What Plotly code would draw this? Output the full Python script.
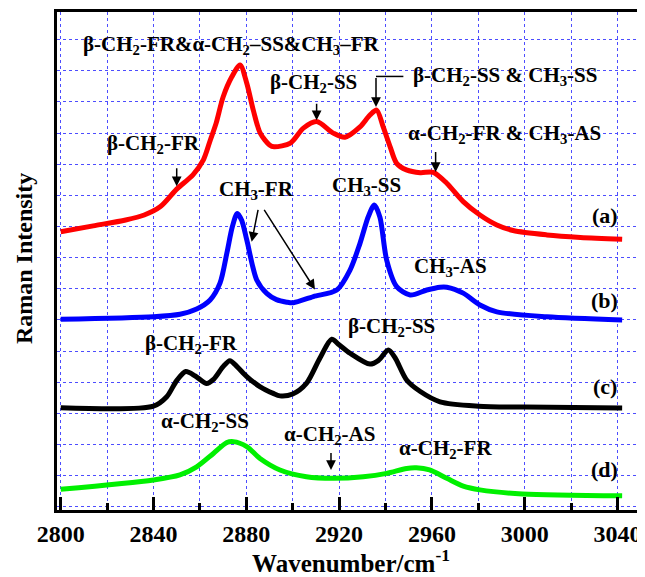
import plotly.graph_objects as go

# ---------------- data ----------------
wn_a = [2800, 2814, 2828, 2836, 2843, 2850, 2857, 2861.5, 2864.5, 2867, 2870, 2873.7, 2877.3,
        2880.2, 2883, 2886, 2890, 2892, 2899, 2904.6, 2910.3, 2917.5, 2922.5, 2929, 2933.3,
        2936.2, 2939, 2942, 2944.8, 2949, 2955, 2960.6, 2966.4, 2973.5, 2980.7, 2988, 2995,
        3009.5, 3024, 3042]
int_a = [8.83, 9.02, 9.21, 9.37, 9.64, 10.2, 10.66, 11.14, 11.78, 12.32, 13.16, 13.8, 14.19,
         13.6, 12.74, 12.0, 11.62, 11.56, 11.68, 12.16, 12.37, 12.0, 11.87, 12.2, 12.58,
         12.74, 12.2, 11.56, 11.03, 10.82, 10.73, 10.74, 10.39, 9.80, 9.37, 9.05, 8.87,
         8.73, 8.65, 8.59]

wn_b = [2800, 2840, 2851.4, 2858.6, 2864.4, 2868.7, 2871.6, 2874, 2876.1, 2878, 2880.2, 2884.5,
        2888.8, 2893, 2897.4, 2900.3, 2908.9, 2919, 2924.7, 2929, 2932.6, 2935.2, 2937.6,
        2940.5, 2944.8, 2950.6, 2957.8, 2963.5, 2966.4, 2973.5, 2980.7, 2988, 3009.5, 3042]
int_b = [6.02, 6.10, 6.18, 6.35, 6.64, 7.19, 8.14, 9.0, 9.42, 9.2, 8.57, 7.28,
         6.85, 6.65, 6.57, 6.55, 6.75, 6.96, 7.6, 8.46, 9.32, 9.69, 9.3,
         7.92, 7.07, 6.8, 6.96, 7.05, 7.05, 6.86, 6.48, 6.26, 6.10, 6.0]

wn_c = [2800, 2840, 2845.7, 2850, 2853.9, 2858, 2862.9, 2866, 2870, 2872.9, 2876, 2880.2, 2886,
        2891.6, 2894.5, 2900, 2905.9, 2911.7, 2916.8, 2920, 2924.7, 2933.3, 2937, 2941.2,
        2944, 2949.1, 2955, 2963.5, 2980, 3000, 3042]
int_c = [3.18, 3.23, 3.53, 4.05, 4.34, 4.2, 3.96, 4.1, 4.5, 4.69, 4.5, 4.18, 3.85,
         3.64, 3.56, 3.62, 3.96, 4.77, 5.38, 5.2, 4.93, 4.58, 4.7, 5.03,
         4.8, 4.07, 3.7, 3.37, 3.23, 3.2, 3.17]

wn_d = [2800, 2840, 2851.4, 2858.6, 2865.8, 2871.6, 2874.4, 2880.2, 2885.9, 2894.5, 2905.9,
        2917.5, 2930.4, 2940.5, 2949.1, 2953.3, 2959, 2966.4, 2973.5, 2980.7, 2999, 3042]
int_d = [0.56, 0.86, 1.02, 1.28, 1.71, 2.06, 2.09, 1.93, 1.55, 1.18, 0.96,
         0.91, 0.96, 1.07, 1.23, 1.25, 1.18, 0.91, 0.66, 0.54, 0.41, 0.35]

series_names = ["(a)", "(b)", "(c)", "(d)"]
series_colors = ["#ff0000", "#0000ff", "#000000", "rgb(0,240,0)"]

# band labels: text, x, y
labels = [
    ("β-CH<sub>2</sub>-FR&α-CH<sub>2</sub>–SS&CH<sub>3</sub>–FR", 2873.3, 14.82),
    ("β-CH<sub>2</sub>-SS", 2908.8, 13.6),
    ("β-CH<sub>2</sub>-SS & CH<sub>3</sub>-SS", 2991.4, 13.85),
    ("α-CH<sub>2</sub>-FR & CH<sub>3</sub>-AS", 2991.2, 11.98),
    ("β-CH<sub>2</sub>-FR", 2839.9, 11.66),
    ("CH<sub>3</sub>-FR", 2884.5, 10.16),
    ("CH<sub>3</sub>-SS", 2931.9, 10.29),
    ("CH<sub>3</sub>-AS", 2968.0, 7.69),
    ("β-CH<sub>2</sub>-FR", 2856.4, 5.24),
    ("β-CH<sub>2</sub>-SS", 2942.4, 5.77),
    ("α-CH<sub>2</sub>-SS", 2862.2, 2.72),
    ("α-CH<sub>2</sub>-AS", 2916.0, 2.30),
    ("α-CH<sub>2</sub>-FR", 2965.7, 1.85),
]
curve_tags = [("(a)", 3034.6, 9.36), ("(b)", 3034.6, 6.63), ("(c)", 3034.6, 3.85), ("(d)", 3034.6, 1.18)]

# arrows: tail x, tail y, head x, head y
arrows = [
    (2850.0, 10.92, 2850.0, 10.29),
    (2910.3, 12.99, 2910.3, 12.41),
    (2935.9, 13.82, 2935.9, 12.84),
    (2961.6, 11.44, 2961.6, 10.75),
    (2885.2, 9.58, 2882.3, 8.51),
    (2887.3, 9.58, 2909.6, 6.98),
    (2916.5, 1.77, 2916.5, 1.18),
]

FONT = "Liberation Serif"

fig = go.Figure()
for wn, inten, name, col in zip([wn_a, wn_b, wn_c, wn_d], [int_a, int_b, int_c, int_d],
                                series_names, series_colors):
    fig.add_trace(go.Scatter(x=wn, y=inten, mode="lines", name=name,
                             line=dict(color=col, width=5, shape="spline", smoothing=0.8),
                             showlegend=False))

annos = []
for t, x, y in labels:
    annos.append(dict(text=t, x=x, y=y, xref="x", yref="y", showarrow=False,
                      font=dict(family=FONT, size=21, color="black", weight="bold")))
for t, x, y in curve_tags:
    annos.append(dict(text=t, x=x, y=y, xref="x", yref="y", showarrow=False,
                      font=dict(family=FONT, size=22, color="black", weight="bold")))
for tx, ty, hx, hy in arrows:
    annos.append(dict(text="", x=hx, y=hy, ax=tx, ay=ty, xref="x", yref="y",
                      axref="x", ayref="y", showarrow=True, arrowhead=2, arrowsize=1.3,
                      arrowwidth=1.5, arrowcolor="black", standoff=0))
annos.append(dict(text="Raman Intensity", x=-0.056, y=0.504, xref="paper", yref="paper",
                  xanchor="center", yanchor="middle",
                  textangle=-90, showarrow=False,
                  font=dict(family=FONT, size=24, color="black", weight="bold")))

fig.add_shape(type="line", x0=2935.9, x1=2947.7, y0=13.82, y1=13.82, xref="x", yref="y",
              line=dict(color="black", width=1.5))

grid_col = "#4d4dff"
fig.update_layout(
    width=637, height=569,
    margin=dict(l=49, r=0, t=4, b=67, autoexpand=False),
    paper_bgcolor="white", plot_bgcolor="white",
    font=dict(family=FONT, color="black"),
    annotations=annos,
    xaxis=dict(range=[2798.4, 3051.85], tick0=2800, dtick=40,
               ticks="inside", ticklen=13, tickwidth=3, tickcolor="black",
               showline=True, linewidth=3, linecolor="black", mirror=True,
               showgrid=True, gridcolor=grid_col, griddash="dot", gridwidth=1,
               minor=dict(dtick=20, tick0=2800, ticks="inside", ticklen=7, tickwidth=3,
                          tickcolor="black", showgrid=True, gridcolor=grid_col,
                          griddash="dot", gridwidth=1),
               tickfont=dict(family=FONT, size=24, color="black", weight="bold"),
               automargin=False,
               title=dict(text="Wavenumber/cm<sup>-1</sup>", standoff=5,
                          font=dict(family=FONT, size=25, color="black", weight="bold")),
               zeroline=False),
    yaxis=dict(range=[-0.106, 15.89], tick0=0, dtick=1, showticklabels=False, ticks="",
               showline=True, linewidth=3, linecolor="black", mirror=False,
               showgrid=True, gridcolor=grid_col, griddash="dot", gridwidth=1,
               automargin=False, zeroline=False),
)

fig.write_html("out.html")
